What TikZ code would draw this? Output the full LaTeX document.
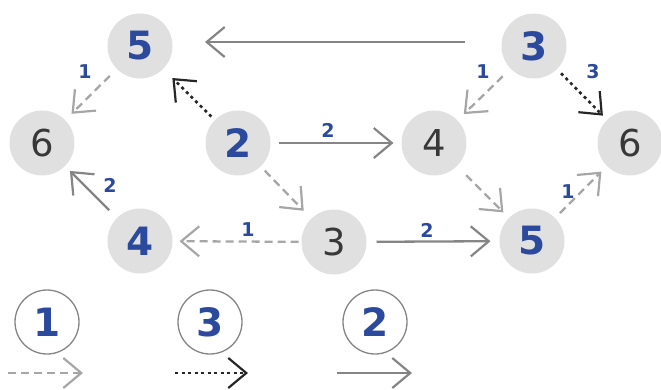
\documentclass[tikz,border=0pt]{standalone}
\usepackage{fontspec}
\setmainfont{DejaVu Sans}
\usetikzlibrary{arrows.meta}
\definecolor{nodegray}{HTML}{E0E0E0}
\definecolor{numblue}{HTML}{2B4A9E}
\definecolor{dashgray}{HTML}{A6A6A6}
\definecolor{solidgray}{HTML}{858585}
\definecolor{txtdark}{HTML}{383838}
\tikzset{
  vtx/.style={circle,fill=nodegray,minimum size=65pt,inner sep=0pt,outer sep=0pt},
  bnum/.style={text=numblue,font=\fontsize{39}{40}\selectfont\bfseries},
  pnum/.style={text=txtdark,font=\fontsize{37}{40}\selectfont},
  legc/.style={circle,draw=solidgray,line width=1.3pt,fill=white,minimum size=64pt,inner sep=0pt,text=numblue,font=\fontsize{39}{40}\selectfont\bfseries},
  lbl/.style={text=numblue,font=\fontsize{19}{20}\selectfont\bfseries,inner sep=0pt},
  tip/.style={-{Straight Barb[length=18pt,width=30pt,line width=2.2pt]}},
  dsh/.style={tip,draw=dashgray,line width=2.3pt,dash pattern=on 8pt off 5pt},
  dtt/.style={tip,draw=black!85,line width=2.6pt,dash pattern=on 3pt off 3.5pt},
  sld/.style={tip,draw=solidgray,line width=2.3pt},
}
\begin{document}
\begin{tikzpicture}[x=1pt,y=-1pt]
\useasboundingbox (0,0) rectangle (661,389);
% nodes
\node[vtx,bnum] (A) at (140,46) {5};
\node[vtx,pnum] (B) at (42,143) {6};
\node[vtx,bnum] (C) at (238,143) {2};
\node[vtx,pnum] (D) at (434,143) {4};
\node[vtx,bnum] (E) at (534,46) {3};
\node[vtx,pnum] (F) at (630,143) {6};
\node[vtx,bnum] (G) at (140,241) {4};
\node[vtx,pnum] (H) at (334,242) {3};
\node[vtx,bnum] (I) at (532,241) {5};
% edges
\draw[sld,shorten <=69pt,shorten >=65pt] ([yshift=4pt]E.center) -- ([yshift=4pt]A.center);
\draw[dsh,shorten <=10pt,shorten >=9pt] (A) -- (B);
\draw[dtt,shorten <=5pt,shorten >=13pt] (C) -- (A);
\draw[sld,shorten <=8pt,shorten >=8pt] (C) -- (D);
\draw[dsh,shorten <=6pt,shorten >=11pt] (C) -- (H);
\draw[sld,shorten <=11pt,shorten >=7pt] (G) -- (B);
\draw[dsh,shorten <=3pt,shorten >=7pt] (H) -- (G);
\draw[sld,shorten <=10pt,shorten >=9pt] (H) -- (I);
\draw[dsh,shorten <=11pt,shorten >=9pt] (E) -- (D);
\draw[dtt,shorten <=6pt,shorten >=6pt] (E) -- (F);
\draw[dsh,shorten <=13pt,shorten >=8pt] (D) -- (I);
\draw[dsh,shorten <=7pt,shorten >=8pt] (I) -- (F);
% edge labels
\node[lbl] (lAB) at (85,72) {1};
\node[lbl] (lGB) at (110,185) {2};
\node[lbl] (lCD) at (328,130) {2};
\node[lbl] (lHG) at (248,230) {1};
\node[lbl] (lHI) at (427,230) {2};
\node[lbl] (lED) at (483,72) {1};
\node[lbl] (lEF) at (593,72) {3};
\node[lbl] (lIF) at (568,192) {1};
% legend
\node[legc] (L1) at (47,322) {1};
\node[legc] (L3) at (210,322) {3};
\node[legc] (L2) at (375,322) {2};
\coordinate (d1) at (8,373); \coordinate (d2) at (83,373);
\coordinate (t1) at (175,373); \coordinate (t2) at (248,373);
\coordinate (s1) at (337,373); \coordinate (s2) at (412,373);
\draw[dsh] (d1) -- (d2);
\draw[dtt] (t1) -- (t2);
\draw[sld] (s1) -- (s2);
\end{tikzpicture}
\end{document}
